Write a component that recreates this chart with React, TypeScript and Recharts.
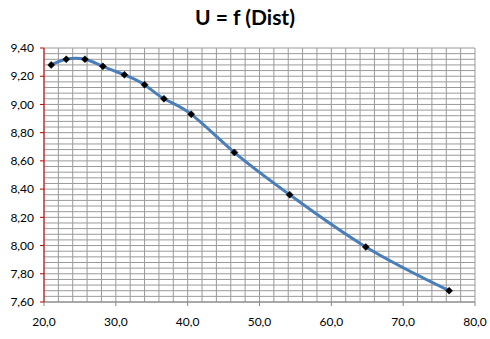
import React from 'react';
import { LineChart, Line, XAxis, YAxis, CartesianGrid } from 'recharts';

const dist = [21.0, 23.1, 25.7, 28.2, 31.2, 34.0, 36.7, 40.5, 46.5, 54.2, 64.8, 76.4];
const voltage = [9.28, 9.32, 9.32, 9.27, 9.21, 9.14, 9.04, 8.93, 8.66, 8.36, 7.99, 7.68];

const xTicks = [20, 30, 40, 50, 60, 70, 80];
const yTicks = [7.6, 7.8, 8.0, 8.2, 8.4, 8.6, 8.8, 9.0, 9.2, 9.4];
const xGrid = [20, 22, 24, 26, 28, 30, 32, 34, 36, 38, 40, 42, 44, 46, 48, 50, 52, 54, 56, 58, 60, 62, 64, 66, 68, 70, 72, 74, 76, 78, 80];
const yGrid = [7.6, 7.64, 7.68, 7.72, 7.76, 7.8, 7.84, 7.88, 7.92, 7.96, 8.0, 8.04, 8.08, 8.12, 8.16, 8.2, 8.24, 8.28, 8.32, 8.36, 8.4, 8.44, 8.48, 8.52, 8.56, 8.6, 8.64, 8.68, 8.72, 8.76, 8.8, 8.84, 8.88, 8.92, 8.96, 9.0, 9.04, 9.08, 9.12, 9.16, 9.2, 9.24, 9.28, 9.32, 9.36, 9.4];

const data = dist.map((d, i) => ({ dist: d, u: voltage[i] }));

const fmtX = (v: number) => v.toFixed(1).replace('.', ',');
const fmtY = (v: number) => v.toFixed(2).replace('.', ',');

const Diamond = (props: any) => {
  const { cx, cy } = props;
  if (cx == null || cy == null) return null;
  const r = 3.5;
  return <path d={`M${cx},${cy - r}L${cx + r},${cy}L${cx},${cy + r}L${cx - r},${cy}Z`} fill="#000" stroke="#000" strokeWidth={0.5} />;
};

const font = 'Lato, "Open Sans", sans-serif';

export default function App() {
  return (
    <div style={{ position: 'absolute', left: 0, top: 0, width: 490, height: 339, background: '#fff' }}>
      <div style={{ position: 'absolute', left: 0, top: 3, width: 490, textAlign: 'center', fontFamily: font, fontWeight: 700, fontSize: 21, color: '#000', lineHeight: '28px' }}>
        U = f (Dist)
      </div>
      <LineChart width={490} height={339} data={data} margin={{ top: 48, right: 15, bottom: 0, left: 0 }}>
        <CartesianGrid stroke="#9a9a9a" strokeWidth={1} verticalValues={xGrid} horizontalValues={yGrid} />
        <XAxis
          dataKey="dist"
          type="number"
          domain={[20, 80]}
          ticks={xTicks}
          tickFormatter={fmtX}
          height={37}
          tickSize={4}
          tickMargin={11}
          stroke="#868686"
          tick={{ fill: '#000', fontSize: 12, fontFamily: font }}
          interval={0}
          allowDataOverflow
        />
        <YAxis
          type="number"
          domain={[7.6, 9.4]}
          ticks={yTicks}
          tickFormatter={fmtY}
          width={44}
          tickSize={4}
          tickMargin={6}
          stroke="#c00000"
          tick={{ fill: '#000', fontSize: 12, fontFamily: font }}
          interval={0}
          allowDataOverflow
        />
        <Line
          dataKey="u"
          type="natural"
          stroke="#4a7ebb"
          strokeWidth={3}
          dot={<Diamond />}
          activeDot={false}
          isAnimationActive={false}
        />
      </LineChart>
    </div>
  );
}
